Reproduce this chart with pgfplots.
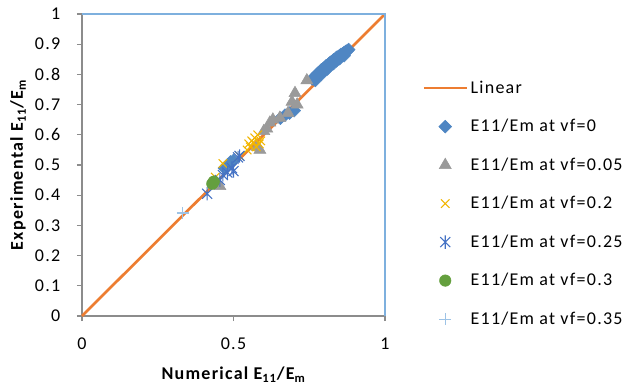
\documentclass[border=0pt]{standalone}
\usepackage{pgfplots}
\pgfplotsset{compat=1.18}
\usepackage{fontspec}
\setmainfont{Carlito}[LetterSpace=7]
\usetikzlibrary{plotmarks}
\pgfdeclareplotmark{xstar}{%
  \pgfpathmoveto{\pgfqpoint{-0.75\pgfplotmarksize}{-0.75\pgfplotmarksize}}%
  \pgfpathlineto{\pgfqpoint{0.75\pgfplotmarksize}{0.75\pgfplotmarksize}}%
  \pgfpathmoveto{\pgfqpoint{-0.75\pgfplotmarksize}{0.75\pgfplotmarksize}}%
  \pgfpathlineto{\pgfqpoint{0.75\pgfplotmarksize}{-0.75\pgfplotmarksize}}%
  \pgfpathmoveto{\pgfqpoint{0pt}{-\pgfplotmarksize}}%
  \pgfpathlineto{\pgfqpoint{0pt}{\pgfplotmarksize}}%
  \pgfusepathqstroke}
\definecolor{cLin}{HTML}{ED7D31}
\definecolor{cA}{HTML}{4F86C3}
\definecolor{cB}{HTML}{9A9A9A}
\definecolor{cC}{HTML}{F2B500}
\definecolor{cD}{HTML}{4472C4}
\definecolor{cE}{HTML}{649F3E}
\definecolor{cF}{HTML}{9DC3E6}
\definecolor{cAx}{HTML}{8C8C8C}
\definecolor{cBox}{HTML}{7EB0DE}
\begin{document}
\begin{tikzpicture}
\useasboundingbox (-61.5pt,-54.75pt) rectangle (407.25pt,237pt);
\begin{axis}[
  scale only axis, width=227.25pt, height=226.5pt,
  xmin=0, xmax=1, ymin=0, ymax=1,
  axis lines=left, axis line style={cAx, line width=0.8pt, -},
  xtick={0,0.5,1}, ytick={0,0.1,...,1},
  tick align=outside, major tick length=3.75pt,
  tick style={cAx, line width=0.8pt},
  xticklabels={0,0.5,1},
  yticklabels={0,0.1,0.2,0.3,0.4,0.5,0.6,0.7,0.8,0.9,1},
  /pgf/number format/assume math mode=true,
  ticklabel style={font=\fontsize{13.5pt}{15pt}\selectfont, text=black},
  xticklabel style={yshift=-9pt},
  yticklabel style={xshift=-9pt},
  xlabel={\textbf{Numerical E\textsubscript{11}/E\textsubscript{m}}},
  ylabel={\textbf{Experimental E\textsubscript{11}/E\textsubscript{m}}},
  label style={font=\fontsize{13.5pt}{15pt}\selectfont},
  xlabel style={at={(axis description cs:0.5,0)}, anchor=center, yshift=-44pt},
  ylabel style={at={(axis description cs:-0.211,0.5)}, anchor=center},
  clip=false,
  legend image code/.code={\draw[mark repeat=2,mark phase=2,#1] plot coordinates {(0pt,0pt) (16pt,0pt) (32pt,0pt)};},
  legend style={draw=none, fill=none, font=\fontsize{13.5pt}{15pt}\selectfont,
    at={(axis description cs:1.11,0.372)}, anchor=west, row sep=14pt,
    cells={anchor=west}},
]
\addplot[cLin, line width=2pt, no marks] coordinates {(0,0) (1,1)};
\addlegendentry{Linear}
\addplot[only marks, mark=square*, mark size=3.4pt, mark options={rotate=45}, color=cA] coordinates {
(0.760,0.785)(0.765,0.790)(0.770,0.793)(0.775,0.800)(0.780,0.805)(0.785,0.808)
(0.790,0.815)(0.795,0.818)(0.800,0.822)(0.805,0.828)(0.810,0.830)(0.815,0.835)
(0.820,0.840)(0.825,0.842)(0.830,0.848)(0.835,0.850)(0.840,0.856)(0.845,0.858)
(0.850,0.862)(0.855,0.866)(0.860,0.868)(0.865,0.872)(0.870,0.876)(0.875,0.878)
(0.880,0.882)(0.770,0.780)(0.790,0.800)(0.810,0.818)(0.830,0.836)(0.850,0.852)
(0.865,0.862)(0.800,0.812)(0.840,0.845)
(0.655,0.655)(0.670,0.665)(0.685,0.672)(0.700,0.680)
(0.470,0.490)(0.480,0.500)(0.490,0.510)(0.500,0.515)};
\addlegendentry{E11/Em at vf=0}
\addplot[only marks, mark=triangle*, mark size=5.2pt, color=cB] coordinates {
(0.742,0.780)(0.703,0.738)(0.693,0.709)(0.710,0.700)(0.680,0.672)(0.653,0.656)
(0.630,0.650)(0.620,0.640)(0.610,0.620)(0.578,0.560)(0.587,0.550)(0.600,0.612)
(0.455,0.430)};
\addlegendentry{E11/Em at vf=0.05}
\addplot[only marks, mark=x, mark size=4.5pt, color=cC, line width=0.8pt] coordinates {
(0.550,0.570)(0.560,0.580)(0.570,0.590)(0.580,0.600)(0.565,0.575)(0.575,0.560)
(0.590,0.580)(0.545,0.550)(0.555,0.560)(0.585,0.570)(0.465,0.505)(0.520,0.530)(0.440,0.460)};
\addlegendentry{E11/Em at vf=0.2}
\addplot[only marks, mark=xstar, mark size=5pt, color=cD, line width=0.8pt] coordinates {
(0.413,0.405)(0.455,0.450)(0.465,0.467)(0.480,0.475)(0.495,0.490)(0.500,0.480)
(0.515,0.525)(0.520,0.530)};
\addlegendentry{E11/Em at vf=0.25}
\addplot[only marks, mark=*, mark size=4.3pt, color=cE] coordinates {
(0.430,0.438)(0.435,0.445)};
\addlegendentry{E11/Em at vf=0.3}
\addplot[only marks, mark=+, mark size=4.5pt, color=cF, line width=0.8pt] coordinates {
(0.333,0.341)};
\addlegendentry{E11/Em at vf=0.35}
\draw[cBox, line width=0.8pt] (rel axis cs:0,1) -- (rel axis cs:1,1) -- (rel axis cs:1,0);
\end{axis}
\end{tikzpicture}
\end{document}
